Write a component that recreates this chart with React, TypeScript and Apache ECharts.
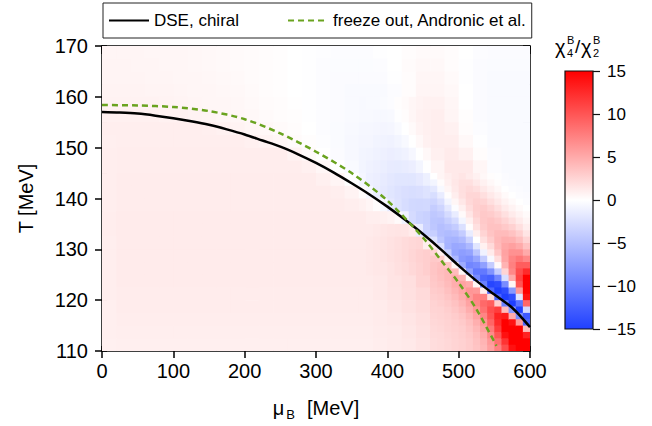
import React, { useEffect, useRef } from "react";
import * as echarts from "echarts";

// ---- data ----
// coarse grid over the whole plane
const muCenters = [10, 30, 50, 70, 90, 110, 130, 150, 170, 190, 210, 230, 250, 270, 290, 310, 330, 350, 370, 390, 410, 430, 450, 470, 490, 510, 530, 550, 570, 590];
const tCenters = [168.75, 166.25, 163.75, 161.25, 158.75, 156.25, 153.75, 151.25, 148.75, 146.25, 143.75, 141.25, 138.75, 136.25, 133.75, 131.25, 128.75, 126.25, 123.75, 121.25, 118.75, 116.25, 113.75, 111.25];

// chi4/chi2 ratio, rows follow tCenters (top to bottom), columns follow muCenters
const ratioGrid = [
  [0.6, 0.6, 0.6, 0.55, 0.5, 0.5, 0.45, 0.4, 0.35, 0.3, 0.25, 0.2, 0.1, 0.0, -0.1, -0.15, -0.2, -0.2, -0.2, -0.1, 0.0, 0.2, 0.3, 0.3, 0.2, 0.0, -0.2, -0.3, -0.3, -0.3],
  [0.65, 0.65, 0.6, 0.6, 0.55, 0.5, 0.45, 0.4, 0.35, 0.3, 0.25, 0.2, 0.1, 0.0, -0.1, -0.2, -0.25, -0.25, -0.25, -0.2, 0.0, 0.25, 0.4, 0.4, 0.2, -0.1, -0.3, -0.35, -0.35, -0.35],
  [0.65, 0.65, 0.65, 0.6, 0.6, 0.55, 0.5, 0.45, 0.4, 0.35, 0.25, 0.2, 0.1, 0.0, -0.1, -0.2, -0.3, -0.3, -0.3, -0.3, -0.1, 0.2, 0.5, 0.5, 0.3, -0.1, -0.3, -0.4, -0.4, -0.4],
  [0.7, 0.7, 0.7, 0.65, 0.65, 0.6, 0.55, 0.5, 0.45, 0.4, 0.3, 0.2, 0.1, 0.0, -0.1, -0.2, -0.3, -0.4, -0.4, -0.4, -0.2, 0.2, 0.6, 0.6, 0.4, 0.0, -0.3, -0.4, -0.4, -0.4],
  [0.75, 0.75, 0.75, 0.75, 0.7, 0.65, 0.6, 0.55, 0.5, 0.45, 0.35, 0.25, 0.15, 0.05, -0.1, -0.2, -0.3, -0.4, -0.5, -0.5, -0.3, 0.1, 0.7, 0.8, 0.5, 0.0, -0.3, -0.4, -0.4, -0.4],
  [0.9, 0.9, 0.9, 0.9, 0.85, 0.8, 0.7, 0.65, 0.55, 0.5, 0.4, 0.3, 0.2, 0.1, -0.05, -0.2, -0.3, -0.4, -0.5, -0.6, -0.4, 0.1, 0.8, 1.0, 0.6, 0.1, -0.3, -0.4, -0.4, -0.4],
  [1.0, 1.0, 1.0, 1.0, 1.0, 1.0, 1.0, 0.95, 0.85, 0.7, 0.55, 0.45, 0.3, 0.15, 0.0, -0.2, -0.35, -0.5, -0.6, -0.7, -0.6, -0.1, 0.8, 1.0, 0.8, 0.2, -0.2, -0.4, -0.4, -0.4],
  [0.95, 1.0, 1.0, 1.0, 1.0, 1.0, 1.0, 1.0, 1.0, 1.0, 0.9, 0.7, 0.5, 0.3, 0.1, -0.15, -0.35, -0.55, -0.7, -0.9, -0.9, -0.4, 0.5, 1.0, 1.0, 0.4, -0.1, -0.4, -0.4, -0.4],
  [0.98, 1.05, 1.05, 1.05, 1.05, 1.05, 1.05, 1.05, 1.05, 1.05, 1.05, 1.05, 1.05, 0.7, 0.3, 0.0, -0.3, -0.55, -0.8, -1.0, -1.2, -0.8, 0.0, 0.9, 1.2, 0.8, 0.2, -0.3, -0.4, -0.4],
  [0.98, 1.05, 1.05, 1.05, 1.05, 1.05, 1.05, 1.05, 1.05, 1.05, 1.05, 1.05, 1.05, 1.05, 0.9, 0.5, 0.0, -0.4, -0.8, -1.1, -1.4, -1.4, -0.7, 0.6, 1.3, 1.3, 0.5, -0.2, -0.4, -0.4],
  [1.0, 1.1, 1.1, 1.1, 1.1, 1.1, 1.1, 1.1, 1.1, 1.1, 1.1, 1.1, 1.1, 1.1, 1.1, 0.9, 0.6, 0.0, -0.7, -1.2, -1.6, -1.9, -1.6, -0.2, 1.2, 1.8, 1.2, 0.2, -0.3, -0.4],
  [1.0, 1.1, 1.1, 1.1, 1.1, 1.1, 1.1, 1.1, 1.1, 1.1, 1.1, 1.1, 1.1, 1.1, 1.1, 1.1, 1.0, 0.7, 0.2, -1.0, -1.6, -2.2, -2.4, -1.2, 0.6, 2.0, 2.0, 0.8, 0.0, -0.3],
  [1.0, 1.1, 1.1, 1.1, 1.1, 1.1, 1.1, 1.1, 1.1, 1.1, 1.1, 1.1, 1.1, 1.1, 1.1, 1.1, 1.1, 1.0, 0.8, 0.3, -1.5, -2.4, -2.8, -2.5, -0.5, 1.6, 2.8, 1.8, 0.6, 0.0],
  [1.05, 1.15, 1.15, 1.15, 1.15, 1.15, 1.15, 1.15, 1.15, 1.15, 1.15, 1.15, 1.15, 1.15, 1.15, 1.15, 1.15, 1.15, 1.2, 1.1, 0.6, -1.8, -3.0, -3.5, -2.0, 0.3, 3.0, 2.8, 1.6, 0.6],
  [1.05, 1.2, 1.2, 1.2, 1.2, 1.2, 1.2, 1.2, 1.2, 1.2, 1.2, 1.2, 1.2, 1.2, 1.2, 1.2, 1.2, 1.2, 1.2, 1.4, 1.6, 1.5, -1.0, -4.0, -3.8, -1.8, 2.0, 4.0, 3.0, 1.5],
  [1.0, 1.2, 1.2, 1.2, 1.2, 1.2, 1.2, 1.2, 1.2, 1.2, 1.2, 1.2, 1.2, 1.2, 1.2, 1.2, 1.2, 1.2, 1.2, 1.4, 1.7, 2.0, 2.0, -1.5, -5.0, -4.5, -0.5, 3.5, 5.0, 2.0],
  [1.0, 1.15, 1.15, 1.15, 1.15, 1.15, 1.15, 1.15, 1.15, 1.15, 1.15, 1.15, 1.15, 1.15, 1.15, 1.15, 1.15, 1.15, 1.15, 1.4, 1.7, 2.0, 2.6, 2.8, -3.0, -7.0, -4.0, 1.5, 6.0, 7.0],
  [1.0, 1.15, 1.15, 1.15, 1.15, 1.15, 1.15, 1.15, 1.15, 1.15, 1.15, 1.15, 1.15, 1.15, 1.15, 1.15, 1.15, 1.15, 1.15, 1.4, 1.7, 2.0, 2.6, 3.3, 4.0, -5.0, -10.0, -6.0, 1.5, 12.0],
  [1.0, 1.15, 1.15, 1.15, 1.15, 1.15, 1.15, 1.15, 1.15, 1.15, 1.15, 1.15, 1.15, 1.15, 1.15, 1.15, 1.15, 1.15, 1.15, 1.3, 1.6, 1.9, 2.5, 3.4, 4.5, 5.0, -4.0, -14.0, -11.0, 12.0],
  [1.0, 1.1, 1.1, 1.1, 1.1, 1.1, 1.1, 1.1, 1.1, 1.1, 1.1, 1.1, 1.1, 1.1, 1.1, 1.1, 1.1, 1.1, 1.1, 1.3, 1.5, 1.8, 2.2, 3.0, 4.0, 5.5, 7.0, -3.0, -15.0, 3.0],
  [0.95, 1.1, 1.1, 1.1, 1.1, 1.1, 1.1, 1.1, 1.1, 1.1, 1.1, 1.1, 1.1, 1.1, 1.1, 1.1, 1.1, 1.1, 1.1, 1.2, 1.4, 1.7, 2.0, 2.6, 3.2, 4.2, 6.0, 9.0, 2.0, -13.0],
  [0.95, 1.05, 1.05, 1.05, 1.05, 1.05, 1.05, 1.05, 1.05, 1.05, 1.05, 1.05, 1.05, 1.05, 1.05, 1.05, 1.05, 1.05, 1.05, 1.15, 1.3, 1.5, 1.8, 2.3, 2.8, 3.5, 5.0, 9.0, 14.0, -3.0],
  [0.92, 1.0, 1.0, 1.0, 1.0, 1.0, 1.0, 1.0, 1.0, 1.0, 1.0, 1.0, 1.0, 1.0, 1.0, 1.0, 1.0, 1.0, 1.0, 1.1, 1.2, 1.4, 1.7, 2.1, 2.5, 3.2, 4.5, 8.0, 15.0, 15.0],
  [0.9, 0.95, 0.95, 0.95, 0.95, 0.95, 0.95, 0.95, 0.95, 0.95, 0.95, 0.95, 0.95, 0.95, 0.95, 0.95, 0.95, 0.95, 0.95, 1.05, 1.15, 1.3, 1.6, 2.0, 2.3, 3.0, 4.0, 7.0, 13.0, 15.0],
];

// medium grid for the blue wedge at intermediate muB (drawn over the coarse one)
const midMu = [375, 385, 395, 405, 415, 425, 435, 445, 455];
const midT = [158.75, 156.25, 153.75, 151.25, 148.75, 146.25, 143.75, 141.25, 138.75, 136.25, 133.75, 131.25, 128.75, 126.25];
// one array per midMu column, values follow midT (top to bottom)
const midCols = [
  [-0.4, -0.5, -0.6, -0.7, -0.85, -1.0, -1.15, -0.6, 0.6, 1.0, 1.2, 1.3, 1.3, 1.3],
  [-0.4, -0.55, -0.7, -0.85, -1.0, -1.15, -1.3, -1.4, 0.2, 1.0, 1.3, 1.4, 1.4, 1.4],
  [-0.35, -0.55, -0.75, -0.95, -1.15, -1.35, -1.55, -1.7, -0.5, 0.9, 1.4, 1.5, 1.5, 1.4],
  [-0.2, -0.45, -0.7, -1.0, -1.3, -1.55, -1.8, -2.0, -1.7, 0.7, 1.5, 1.7, 1.7, 1.6],
  [0.1, -0.1, -0.4, -0.8, -1.2, -1.6, -2.0, -2.3, -2.2, 0.3, 1.6, 1.9, 1.9, 1.8],
  [0.3, 0.2, 0.0, -0.5, -1.0, -1.5, -2.0, -2.5, -2.7, -1.0, 1.5, 2.1, 2.1, 2.0],
  [0.5, 0.5, 0.3, 0.0, -0.6, -1.3, -2.0, -2.6, -3.0, -2.8, 1.2, 2.3, 2.4, 2.3],
  [0.7, 0.8, 0.7, 0.4, 0.0, -0.8, -1.7, -2.5, -3.1, -3.4, -1.5, 2.4, 2.7, 2.6],
  [0.8, 0.9, 0.9, 0.8, 0.4, -0.1, -1.2, -2.2, -3.0, -3.6, -3.5, 1.0, 2.9, 2.9],
];

// finer grid near the crossover line at large muB (drawn over the coarse one)
const fineMu = [465, 475, 485, 495, 505, 515, 525, 535, 545, 555, 565, 575, 585, 595];
const fineT = [144.375, 143.125, 141.875, 140.625, 139.375, 138.125, 136.875, 135.625, 134.375, 133.125, 131.875, 130.625, 129.375, 128.125, 126.875, 125.625, 124.375, 123.125, 121.875, 120.625, 119.375, 118.125, 116.875, 115.625, 114.375, 113.125, 111.875, 110.625];
// one array per fineMu column, values follow fineT (top to bottom)
const fineCols = [
  [0.0, -0.8, -1.8, -2.6, -3.3, -3.9, -4.3, -4.5, -4.4, -3.8, -2.2, 1.0, 2.5, 3.2, 3.4, 3.4, 3.3, 3.2, 3.0, 2.8, 2.6, 2.5, 2.4, 2.3, 2.2, 2.1, 2.0, 2.0],
  [0.6, 0.2, -0.5, -1.5, -2.5, -3.3, -4.0, -4.6, -5.0, -5.0, -4.5, -2.5, 1.0, 3.0, 3.7, 3.8, 3.7, 3.5, 3.2, 3.0, 2.8, 2.6, 2.5, 2.4, 2.3, 2.2, 2.1, 2.1],
  [1.0, 0.9, 0.6, 0.1, -0.8, -1.8, -2.8, -3.8, -4.6, -5.3, -5.8, -6.0, -4.0, 0.8, 3.5, 4.2, 4.2, 4.0, 3.7, 3.4, 3.1, 2.9, 2.7, 2.6, 2.5, 2.4, 2.3, 2.3],
  [1.3, 1.4, 1.3, 1.0, 0.5, -0.2, -1.5, -2.8, -4.0, -5.0, -6.0, -6.8, -7.0, -5.5, 0.5, 4.0, 4.8, 4.8, 4.4, 4.0, 3.6, 3.3, 3.0, 2.8, 2.7, 2.6, 2.5, 2.5],
  [1.5, 1.8, 1.9, 1.8, 1.4, 0.9, 0.3, -0.8, -2.4, -4.0, -5.4, -6.6, -7.6, -8.0, -6.5, 0.5, 4.5, 5.5, 5.2, 4.8, 4.3, 3.8, 3.4, 3.1, 2.9, 2.8, 2.7, 2.7],
  [1.2, 1.8, 2.2, 2.4, 2.3, 2.0, 1.5, 0.9, 0.2, -1.5, -3.5, -5.5, -7.2, -8.5, -9.5, -7.5, 0.5, 5.0, 6.2, 6.0, 5.4, 4.8, 4.2, 3.7, 3.4, 3.2, 3.0, 3.0],
  [0.8, 1.3, 1.9, 2.4, 2.7, 2.8, 2.7, 2.3, 1.8, 1.0, 0.0, -2.0, -4.5, -7.0, -9.0, -10.5, -9.0, 0.5, 6.0, 7.3, 7.0, 6.2, 5.4, 4.7, 4.2, 3.8, 3.6, 3.5],
  [0.4, 0.8, 1.3, 1.9, 2.5, 3.0, 3.2, 3.2, 3.0, 2.5, 1.8, 0.8, -1.0, -4.0, -7.5, -10.5, -12.0, -10.0, 1.0, 7.5, 8.8, 8.3, 7.2, 6.2, 5.4, 4.8, 4.4, 4.2],
  [0.1, 0.4, 0.8, 1.3, 1.9, 2.5, 3.0, 3.5, 3.6, 3.5, 3.0, 2.2, 1.2, -0.5, -4.0, -8.5, -12.5, -14.5, -12.0, 2.0, 9.5, 10.5, 10.0, 9.0, 7.8, 6.8, 6.0, 5.6],
  [-0.1, 0.1, 0.4, 0.8, 1.3, 1.9, 2.5, 3.1, 3.6, 4.0, 4.2, 4.0, 3.3, 2.0, 0.3, -4.0, -9.5, -14.0, -15.0, -12.0, 3.0, 11.5, 13.0, 12.5, 11.5, 10.0, 8.5, 7.5],
  [-0.3, -0.2, 0.0, 0.3, 0.7, 1.2, 1.8, 2.5, 3.2, 4.0, 4.7, 5.2, 5.5, 5.3, 4.5, 2.5, -2.5, -9.0, -14.0, -15.0, -10.0, 4.0, 13.5, 15.0, 15.0, 14.0, 12.0, 10.5],
  [-0.4, -0.3, -0.2, 0.0, 0.3, 0.7, 1.2, 1.9, 2.7, 3.6, 4.6, 5.6, 6.5, 7.2, 7.5, 7.0, 5.0, 0.5, -8.0, -14.0, -15.0, -8.0, 5.0, 14.0, 15.0, 15.0, 15.0, 14.0],
  [-0.4, -0.4, -0.3, -0.2, 0.0, 0.3, 0.7, 1.2, 1.9, 2.8, 3.8, 5.0, 6.5, 8.0, 9.5, 10.5, 11.0, 10.0, 6.0, -2.0, -11.0, -15.0, -9.0, 6.0, 15.0, 15.0, 15.0, 15.0],
  [-0.4, -0.4, -0.4, -0.3, -0.2, 0.0, 0.3, 0.6, 1.0, 1.6, 2.5, 3.6, 5.0, 7.0, 9.5, 12.5, 15.0, 15.0, 15.0, 14.0, 9.0, -3.0, -13.0, -12.0, 4.0, 13.0, 15.0, 15.0],
];

const dseMu = [0, 25, 50, 75, 100, 125, 150, 175, 200, 225, 250, 275, 300, 325, 350, 375, 400, 425, 450, 475, 500, 525, 550, 575, 600];
const dseT = [157.0, 156.9, 156.7, 156.3, 155.8, 155.2, 154.5, 153.6, 152.6, 151.4, 150.2, 148.7, 147.0, 145.1, 143.0, 140.8, 138.4, 135.8, 133.0, 130.0, 126.8, 123.8, 121.1, 118.5, 114.7];

const foMu = [0, 50, 100, 150, 200, 250, 300, 350, 400, 450, 475, 500, 525, 553];
const foT = [158.4, 158.3, 158.0, 157.2, 155.6, 152.8, 149.2, 145.0, 139.6, 132.3, 127.9, 123.4, 118.2, 111.0];

const seriesNames = ["DSE, chiral", "freeze out, Andronic et al."];

const FONT = "'Liberation Sans', Arial, sans-serif";

function cellSeries(data: number[][], dMu: number, dT: number) {
  return {
    type: "custom",
    xAxisIndex: 0,
    yAxisIndex: 0,
    clip: true,
    encode: { x: 0, y: 1 },
    data,
    silent: true,
    renderItem: (params: any, api: any) => {
      const m = api.value(0);
      const t = api.value(1);
      const p0 = api.coord([m - dMu / 2, t + dT / 2]);
      const p1 = api.coord([m + dMu / 2, t - dT / 2]);
      return {
        type: "rect",
        shape: { x: p0[0], y: p0[1], width: p1[0] - p0[0] + 0.7, height: p1[1] - p0[1] + 0.7 },
        style: { fill: api.visual("color") },
      };
    },
    z: 1,
  };
}

function gridCells(mus: number[], ts: number[], cols: number[][]) {
  const out: number[][] = [];
  mus.forEach((m, j) => {
    ts.forEach((t, i) => {
      out.push([m, t, cols[j][i]]);
    });
  });
  return out;
}

export default function App() {
  const ref = useRef<HTMLDivElement>(null);

  useEffect(() => {
    const chart = echarts.init(ref.current!, null, { renderer: "svg" });

    const coarse: number[][] = [];
    tCenters.forEach((t, i) => {
      muCenters.forEach((m, j) => {
        coarse.push([m, t, ratioGrid[i][j]]);
      });
    });
    const mid = gridCells(midMu, midT, midCols);
    const fine = gridCells(fineMu, fineT, fineCols);

    const black = "#000";
    const tickStyle = { color: black, width: 1.5 };

    const option: any = {
      animation: false,
      backgroundColor: "#ffffff",
      grid: [
        { left: 102, top: 46, width: 428, height: 306, show: false },
        {
          left: 565,
          top: 71,
          width: 28,
          height: 258,
          show: true,
          backgroundColor: new echarts.graphic.LinearGradient(0, 0, 0, 1, [
            { offset: 0, color: "#ff0000" },
            { offset: 0.5, color: "#ffffff" },
            { offset: 1, color: "#2040ff" },
          ]),
          borderColor: "#111",
          borderWidth: 1.2,
        },
      ],
      visualMap: {
        show: false,
        type: "continuous",
        min: -15,
        max: 15,
        dimension: 2,
        seriesIndex: [0, 1, 2],
        inRange: { color: ["#2040ff", "#ffffff", "#ff0000"] },
      },
      legend: {
        left: 103,
        top: 3,
        itemWidth: 40,
        itemHeight: 16,
        itemGap: 48,
        padding: [9, 5, 9, 5],
        borderColor: "#222",
        borderWidth: 1,
        itemStyle: { opacity: 0 },
        textStyle: { fontSize: 17, color: "#000", fontFamily: FONT },
        data: seriesNames,
      },
      xAxis: [
        {
          type: "value",
          gridIndex: 0,
          min: 0,
          max: 600,
          interval: 100,
          position: "bottom",
          axisLine: { show: true, onZero: false, lineStyle: tickStyle },
          axisTick: { show: true, inside: false, length: 7, lineStyle: tickStyle },
          axisLabel: { color: black, fontSize: 20, margin: 10, fontFamily: FONT },
          splitLine: { show: false },
          name: "{a|μ}{b|B}{a|[MeV]}",
          nameLocation: "middle",
          nameGap: 44,
          nameTextStyle: {
            color: black,
            fontFamily: FONT,
            rich: {
              a: { fontSize: 20, fontFamily: FONT, color: black, lineHeight: 26 },
              b: { fontSize: 13, fontFamily: FONT, color: black, verticalAlign: "bottom", lineHeight: 26, padding: [0, 12, 0, 2] },
            },
          },
        },
        {
          type: "value",
          gridIndex: 0,
          min: 0,
          max: 600,
          interval: 50,
          position: "bottom",
          axisLine: { show: false, onZero: false },
          axisTick: { show: true, inside: true, length: 5, lineStyle: tickStyle },
          axisLabel: { show: false },
          splitLine: { show: false },
        },
        {
          type: "value",
          gridIndex: 0,
          min: 0,
          max: 600,
          interval: 100,
          position: "top",
          axisLine: { show: true, onZero: false, lineStyle: tickStyle },
          axisTick: { show: true, inside: true, length: 8, lineStyle: tickStyle },
          axisLabel: { show: false },
          splitLine: { show: false },
        },
        {
          type: "value",
          gridIndex: 0,
          min: 0,
          max: 600,
          interval: 50,
          position: "top",
          axisLine: { show: false, onZero: false },
          axisTick: { show: true, inside: true, length: 4, lineStyle: tickStyle },
          axisLabel: { show: false },
          splitLine: { show: false },
        },
        { type: "value", gridIndex: 1, min: 0, max: 1, show: false },
      ],
      yAxis: [
        {
          type: "value",
          gridIndex: 0,
          min: 110,
          max: 170,
          interval: 10,
          position: "left",
          axisLine: { show: true, onZero: false, lineStyle: tickStyle },
          axisTick: { show: true, inside: false, length: 7, lineStyle: tickStyle },
          axisLabel: { color: black, fontSize: 20, margin: 14, fontFamily: FONT },
          splitLine: { show: false },
          name: "T [MeV]",
          nameLocation: "middle",
          nameGap: 66,
          nameTextStyle: { color: black, fontSize: 20, fontFamily: FONT },
        },
        {
          type: "value",
          gridIndex: 0,
          min: 110,
          max: 170,
          interval: 5,
          position: "left",
          axisLine: { show: false, onZero: false },
          axisTick: { show: true, inside: true, length: 5, lineStyle: tickStyle },
          axisLabel: { show: false },
          splitLine: { show: false },
        },
        {
          type: "value",
          gridIndex: 0,
          min: 110,
          max: 170,
          interval: 5,
          position: "right",
          axisLine: { show: true, onZero: false, lineStyle: tickStyle },
          axisTick: { show: true, inside: true, length: 7, lineStyle: tickStyle },
          axisLabel: { show: false },
          splitLine: { show: false },
        },
        {
          type: "value",
          gridIndex: 1,
          min: -15,
          max: 15,
          interval: 5,
          position: "right",
          axisLine: { show: false, onZero: false },
          axisTick: { show: true, inside: false, length: 7, lineStyle: { color: "#111", width: 1.2 } },
          axisLabel: {
            color: black,
            fontSize: 17,
            margin: 14,
            fontFamily: FONT,
            formatter: (v: number) => (v < 0 ? "\u2212" + Math.abs(v) : String(v)),
          },
          splitLine: { show: false },
        },
      ],
      graphic: [
        { type: "text", left: 555, top: 37, style: { text: "χ", font: `20px ${FONT}`, fill: black } },
        { type: "text", left: 567, top: 34, style: { text: "B", font: `11px ${FONT}`, fill: black } },
        { type: "text", left: 567, top: 47, style: { text: "4", font: `11px ${FONT}`, fill: black } },
        { type: "text", left: 575, top: 37, style: { text: "/", font: `19px ${FONT}`, fill: black } },
        { type: "text", left: 581, top: 37, style: { text: "χ", font: `20px ${FONT}`, fill: black } },
        { type: "text", left: 593, top: 34, style: { text: "B", font: `11px ${FONT}`, fill: black } },
        { type: "text", left: 593, top: 47, style: { text: "2", font: `11px ${FONT}`, fill: black } },
      ],
      series: [
        cellSeries(coarse, muCenters[1] - muCenters[0], tCenters[0] - tCenters[1]),
        cellSeries(mid, midMu[1] - midMu[0], midT[0] - midT[1]),
        cellSeries(fine, fineMu[1] - fineMu[0], fineT[0] - fineT[1]),
        {
          type: "line",
          name: seriesNames[0],
          xAxisIndex: 0,
          yAxisIndex: 0,
          data: dseMu.map((m, i) => [m, dseT[i]]),
          symbol: "none",
          smooth: 0.3,
          lineStyle: { color: "#000", width: 2.5 },
          itemStyle: { color: "#000" },
          z: 3,
        },
        {
          type: "line",
          name: seriesNames[1],
          xAxisIndex: 0,
          yAxisIndex: 0,
          data: foMu.map((m, i) => [m, foT[i]]),
          symbol: "none",
          smooth: 0.3,
          lineStyle: { color: "#6aa31f", width: 2.5, type: [6, 4] },
          itemStyle: { color: "#6aa31f" },
          z: 3,
        },
      ],
    };

    chart.setOption(option);
    return () => chart.dispose();
  }, []);

  return <div ref={ref} style={{ position: "absolute", left: 0, top: 0, width: 652, height: 426 }} />;
}
